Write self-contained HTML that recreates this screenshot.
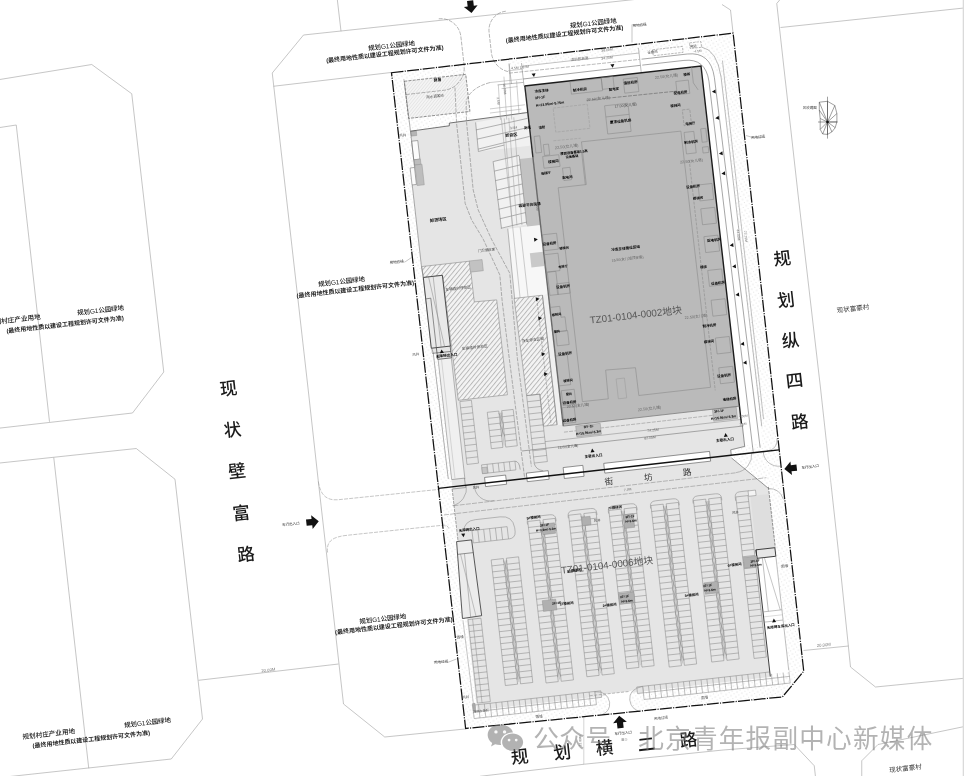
<!DOCTYPE html>
<html lang="zh-CN">
<head>
<meta charset="utf-8">
<title>总平面图</title>
<style>
html,body{margin:0;padding:0;background:#fff;}
body{width:964px;height:776px;overflow:hidden;}
svg{display:block;will-change:transform;filter:grayscale(1);}
text{font-family:"Liberation Sans","Noto Sans CJK SC",sans-serif;}
</style>
</head>
<body>
<svg width="964" height="776" viewBox="0 0 964 776">
<defs>
<pattern id="hatch" width="3.55" height="3.55" patternUnits="userSpaceOnUse" patternTransform="rotate(-44)">
<line x1="0" y1="0.5" x2="3.55" y2="0.5" stroke="#808080" stroke-width="0.5"/>
</pattern>
<pattern id="hatch2" width="2.4" height="2.4" patternUnits="userSpaceOnUse" patternTransform="rotate(-45)">
<line x1="0" y1="0" x2="2.4" y2="0" stroke="#bbb" stroke-width="0.45"/>
</pattern>
<pattern id="dots" width="5" height="5" patternUnits="userSpaceOnUse" patternTransform="rotate(20)">
<circle cx="1" cy="1" r="0.42" fill="#aaa"/>
<circle cx="3.5" cy="3.3" r="0.42" fill="#bbb"/>
</pattern>
</defs>
<rect x="0" y="0" width="964" height="776" fill="#ffffff"/>
<g id="outer">
<polyline points="-2,79.8 91.75,64.5 131.75,93.75 163.75,372 132.5,413 -2,428.3" fill="none" stroke="#a0a0a0" stroke-width="0.6" />
<polyline points="-2,127.8 16.25,125 49.5,421.75" fill="none" stroke="#a0a0a0" stroke-width="0.6" />
<polyline points="-2,463.2 136.25,448.5 175,479.25 202.5,719 171.25,759 -2,777.8" fill="none" stroke="#a0a0a0" stroke-width="0.6" />
<polyline points="53.75,457.5 88.75,768.25" fill="none" stroke="#a0a0a0" stroke-width="0.6" />
<polyline points="198.5,680.3 338.5,664" fill="none" stroke="#a0a0a0" stroke-width="0.6" />
<text x="268.5" y="671.5" font-size="4.2" fill="#777" text-anchor="middle" transform="rotate(-6.5 268.5 671.5)" >20.00M</text>
<polyline points="341,31 303.5,35 272.25,73 286,194 308,388 318.5,483 329.75,582 343.5,704 384.75,737 465,729" fill="none" stroke="#a0a0a0" stroke-width="0.6" />
<polyline points="337.25,-1 341,31.25" fill="none" stroke="#a0a0a0" stroke-width="0.6" />
<polyline points="273.5,86.25 391,72.5" fill="none" stroke="#a0a0a0" stroke-width="0.6" />
<polyline points="341,31 723,-10" fill="none" stroke="#a0a0a0" stroke-width="0.6" />
<path d="M318.3,481.5 C320,494 326,501 338.5,499.7 L440,489.3" fill="none" stroke="#a0a0a0" stroke-width="0.6" stroke-dasharray="4 1.2" />
<path d="M327.6,552.5 C326,541 333,536.8 347,535.3 L443,525.2 Q448.5,524.8 449.2,530" fill="none" stroke="#a0a0a0" stroke-width="0.6" stroke-dasharray="4 1.2" />
<polyline points="780.5,-1 776.75,3.5 798,194 820.5,388 841.75,582 850.5,667 875.5,687 965,678.2" fill="none" stroke="#a0a0a0" stroke-width="0.6" />
<polyline points="780.5,27.5 965,7.9" fill="none" stroke="#a0a0a0" stroke-width="0.6" />
<polyline points="722,4.5 730.5,10 733,32.5" fill="none" stroke="#a0a0a0" stroke-width="0.6" />
<polyline points="803.5,650.5 848.5,646" fill="none" stroke="#a0a0a0" stroke-width="0.6" />
<text x="824" y="646.3" font-size="4.2" fill="#777" text-anchor="middle" transform="rotate(-6.5 824 646.3)" >20.00M</text>
<polyline points="583.8,717 583.8,764.3" fill="none" stroke="#aaa" stroke-width="0.5" />
<polyline points="480,776.3 584.5,764.2 723,750 794.25,744.5 814.25,765.75 815.5,777" fill="none" stroke="#a0a0a0" stroke-width="0.6" />
<polyline points="965,726.4 878,744.5 861.75,760.75 861.75,777" fill="none" stroke="#a0a0a0" stroke-width="0.6" />
<rect x="962.7" y="0" width="1.3" height="776" fill="#dadada" stroke="none" stroke-width="0.6" />
</g>
<g id="site" transform="translate(391.5 72.75) rotate(-6.45)">
<polygon points="0,0 343.9,-1 342.4,641 318.4,664.1 0,659.9" fill="url(#dots)" stroke="none" stroke-width="0.6" />
<polygon points="74,0.8 117,0.8 117,8 262,8 298,12 318,22 327,44 327,410 308,410 308,28 131,28 131,57 74,57" fill="#fff" stroke="none" stroke-width="0.6" />
<polygon points="13.5,418 294.6,418 294.6,421 328,455 328,515 308.6,515 308.6,643 13.5,643" fill="#e5e5e5" stroke="none" stroke-width="0.6" />
<rect x="309" y="461" width="18.6" height="54" fill="#dedede" stroke="none" stroke-width="0.6" />
<polygon points="12.3,60.2 51.5,59.2 51.8,56.5 131,54.8 131,370 308.5,370 309,411 294.7,412.8 294.7,418.5 14,418.5 14,283 8,283 8,97 12.3,97" fill="#e5e5e5" stroke="none" stroke-width="0.6" />
<polygon points="78,58.8 131,54.9 131,88 77.5,88" fill="#f1f1f1" stroke="none" stroke-width="0.6" />
<polygon points="91,99.5 118,97 118,166 91.8,167" fill="#f1f1f1" stroke="none" stroke-width="0.6" />
<polygon points="117.5,100 131,100 131,168.5 117.5,168.5" fill="#c2c2c2" stroke="none" stroke-width="0.6" />
<polygon points="98,168 131,168 131,238 97,238" fill="#f7f7f7" stroke="none" stroke-width="0.6" />
<rect x="117.2" y="194.8" width="13.2" height="14.4" fill="#c9c9c9" stroke="none" stroke-width="0.6" />
<rect x="125" y="238" width="6" height="131" fill="#f0f0f0" stroke="none" stroke-width="0.6" />
<polygon points="14.1,290 27.4,290 27.3,411 14.1,411" fill="#f0f0f0" stroke="none" stroke-width="0.6" />
<rect x="12.3" y="70.3" width="6.2" height="18.7" fill="#fbfbfb" stroke="#666" stroke-width="0.5" />
<rect x="7.8" y="96.7" width="4.4" height="17.1" fill="#fbfbfb" stroke="#666" stroke-width="0.5" />
<rect x="11.8" y="9.9" width="61.8" height="37.4" fill="#f4f4f4" stroke="none" stroke-width="0.6" />
<rect x="11.8" y="9.9" width="61.8" height="37.4" fill="url(#hatch2)" stroke="#555" stroke-width="0.6" stroke-dasharray="3 1.2" />
<polygon points="8.3,196 56.5,196 56.5,237 79,237.5 79,333 29.6,333 28,207 8.6,207" fill="#f3f3f3" stroke="none" stroke-width="0.6" />
<polygon points="8.3,196 56.5,196 56.5,237 79,237.5 79,333 29.6,333 28,207 8.6,207" fill="url(#hatch)" stroke="#7d7d7d" stroke-width="0.5" />
<polygon points="96.5,238 125,238 125,368.3 111.3,368.3 111.3,336 98,336" fill="#f3f3f3" stroke="none" stroke-width="0.6" />
<polygon points="96.5,238 125,238 125,368.3 111.3,368.3 111.3,336 98,336" fill="url(#hatch)" stroke="#7d7d7d" stroke-width="0.5" />
<rect x="131" y="28.1" width="177.3" height="342.3" fill="#bababa" stroke="none" stroke-width="0.6" />
<polyline points="13,437.2 297.5,436.2" fill="none" stroke="#858585" stroke-width="0.5" stroke-dasharray="5 1.2" />
<polyline points="2.5,445.3 294,444.6" fill="none" stroke="#858585" stroke-width="0.5" stroke-dasharray="5 1.2" />
<path d="M44.30,495.30H56.60V621.72H44.30ZM44.30,501.32H56.60M44.30,507.34H56.60M44.30,513.36H56.60M44.30,519.38H56.60M44.30,525.40H56.60M44.30,531.42H56.60M44.30,537.44H56.60M44.30,543.46H56.60M44.30,549.48H56.60M44.30,555.50H56.60M44.30,561.52H56.60M44.30,567.54H56.60M44.30,573.56H56.60M44.30,579.58H56.60M44.30,585.60H56.60M44.30,591.62H56.60M44.30,597.64H56.60M44.30,603.66H56.60M44.30,609.68H56.60M44.30,615.70H56.60" fill="none" stroke="#858585" stroke-width="0.5" />
<path d="M59.60,495.30H71.90V621.72H59.60ZM59.60,501.32H71.90M59.60,507.34H71.90M59.60,513.36H71.90M59.60,519.38H71.90M59.60,525.40H71.90M59.60,531.42H71.90M59.60,537.44H71.90M59.60,543.46H71.90M59.60,549.48H71.90M59.60,555.50H71.90M59.60,561.52H71.90M59.60,567.54H71.90M59.60,573.56H71.90M59.60,579.58H71.90M59.60,585.60H71.90M59.60,591.62H71.90M59.60,597.64H71.90M59.60,603.66H71.90M59.60,609.68H71.90M59.60,615.70H71.90" fill="none" stroke="#858585" stroke-width="0.5" />
<polyline points="59.7,497.3 56.5,509.3 59.7,521.3 56.5,533.3 59.7,545.3 56.5,557.3 59.7,569.3 56.5,581.3 59.7,593.3 56.5,605.3 59.7,617.3" fill="none" stroke="#858585" stroke-width="0.5" />
<polyline points="56.5,497.3 59.7,509.3 56.5,521.3 59.7,533.3 56.5,545.3 59.7,557.3 56.5,569.3 59.7,581.3 56.5,593.3 59.7,605.3 56.5,617.3" fill="none" stroke="#858585" stroke-width="0.5" />
<polyline points="58.1,497.3 58.1,619.72" fill="none" stroke="#999" stroke-width="0.4" />
<path d="M85.00,461.20H97.30V623.74H85.00ZM85.00,467.22H97.30M85.00,473.24H97.30M85.00,479.26H97.30M85.00,485.28H97.30M85.00,491.30H97.30M85.00,497.32H97.30M85.00,503.34H97.30M85.00,509.36H97.30M85.00,515.38H97.30M85.00,521.40H97.30M85.00,527.42H97.30M85.00,533.44H97.30M85.00,539.46H97.30M85.00,545.48H97.30M85.00,551.50H97.30M85.00,557.52H97.30M85.00,563.54H97.30M85.00,569.56H97.30M85.00,575.58H97.30M85.00,581.60H97.30M85.00,587.62H97.30M85.00,593.64H97.30M85.00,599.66H97.30M85.00,605.68H97.30M85.00,611.70H97.30M85.00,617.72H97.30" fill="none" stroke="#858585" stroke-width="0.5" />
<path d="M100.30,461.20H112.60V623.74H100.30ZM100.30,467.22H112.60M100.30,473.24H112.60M100.30,479.26H112.60M100.30,485.28H112.60M100.30,491.30H112.60M100.30,497.32H112.60M100.30,503.34H112.60M100.30,509.36H112.60M100.30,515.38H112.60M100.30,521.40H112.60M100.30,527.42H112.60M100.30,533.44H112.60M100.30,539.46H112.60M100.30,545.48H112.60M100.30,551.50H112.60M100.30,557.52H112.60M100.30,563.54H112.60M100.30,569.56H112.60M100.30,575.58H112.60M100.30,581.60H112.60M100.30,587.62H112.60M100.30,593.64H112.60M100.30,599.66H112.60M100.30,605.68H112.60M100.30,611.70H112.60M100.30,617.72H112.60" fill="none" stroke="#858585" stroke-width="0.5" />
<polyline points="100.4,463.2 97.2,475.2 100.4,487.2 97.2,499.2 100.4,511.2 97.2,523.2 100.4,535.2 97.2,547.2 100.4,559.2 97.2,571.2 100.4,583.2 97.2,595.2 100.4,607.2 97.2,619.2" fill="none" stroke="#858585" stroke-width="0.5" />
<polyline points="97.2,463.2 100.4,475.2 97.2,487.2 100.4,499.2 97.2,511.2 100.4,523.2 97.2,535.2 100.4,547.2 97.2,559.2 100.4,571.2 97.2,583.2 100.4,595.2 97.2,607.2 100.4,619.2" fill="none" stroke="#858585" stroke-width="0.5" />
<polyline points="98.8,463.2 98.8,621.74" fill="none" stroke="#999" stroke-width="0.4" />
<path d="M84.40,464.20V462.00Q84.40,457.00 90.00,457.00H107.60Q113.20,457.00 113.20,462.00V464.20" fill="none" stroke="#858585" stroke-width="0.5" />
<path d="M126.30,459.60H138.60V622.14H126.30ZM126.30,465.62H138.60M126.30,471.64H138.60M126.30,477.66H138.60M126.30,483.68H138.60M126.30,489.70H138.60M126.30,495.72H138.60M126.30,501.74H138.60M126.30,507.76H138.60M126.30,513.78H138.60M126.30,519.80H138.60M126.30,525.82H138.60M126.30,531.84H138.60M126.30,537.86H138.60M126.30,543.88H138.60M126.30,549.90H138.60M126.30,555.92H138.60M126.30,561.94H138.60M126.30,567.96H138.60M126.30,573.98H138.60M126.30,580.00H138.60M126.30,586.02H138.60M126.30,592.04H138.60M126.30,598.06H138.60M126.30,604.08H138.60M126.30,610.10H138.60M126.30,616.12H138.60" fill="none" stroke="#858585" stroke-width="0.5" />
<path d="M141.60,459.60H153.90V622.14H141.60ZM141.60,465.62H153.90M141.60,471.64H153.90M141.60,477.66H153.90M141.60,483.68H153.90M141.60,489.70H153.90M141.60,495.72H153.90M141.60,501.74H153.90M141.60,507.76H153.90M141.60,513.78H153.90M141.60,519.80H153.90M141.60,525.82H153.90M141.60,531.84H153.90M141.60,537.86H153.90M141.60,543.88H153.90M141.60,549.90H153.90M141.60,555.92H153.90M141.60,561.94H153.90M141.60,567.96H153.90M141.60,573.98H153.90M141.60,580.00H153.90M141.60,586.02H153.90M141.60,592.04H153.90M141.60,598.06H153.90M141.60,604.08H153.90M141.60,610.10H153.90M141.60,616.12H153.90" fill="none" stroke="#858585" stroke-width="0.5" />
<polyline points="141.7,461.6 138.5,473.6 141.7,485.6 138.5,497.6 141.7,509.6 138.5,521.6 141.7,533.6 138.5,545.6 141.7,557.6 138.5,569.6 141.7,581.6 138.5,593.6 141.7,605.6 138.5,617.6" fill="none" stroke="#858585" stroke-width="0.5" />
<polyline points="138.5,461.6 141.7,473.6 138.5,485.6 141.7,497.6 138.5,509.6 141.7,521.6 138.5,533.6 141.7,545.6 138.5,557.6 141.7,569.6 138.5,581.6 141.7,593.6 138.5,605.6 141.7,617.6" fill="none" stroke="#858585" stroke-width="0.5" />
<polyline points="140.1,461.6 140.1,620.14" fill="none" stroke="#999" stroke-width="0.4" />
<path d="M125.70,462.60V460.40Q125.70,455.40 131.30,455.40H148.90Q154.50,455.40 154.50,460.40V462.60" fill="none" stroke="#858585" stroke-width="0.5" />
<path d="M166.80,459.40H179.10V618.70H166.80ZM166.80,465.30H179.10M166.80,471.20H179.10M166.80,477.10H179.10M166.80,483.00H179.10M166.80,488.90H179.10M166.80,494.80H179.10M166.80,500.70H179.10M166.80,506.60H179.10M166.80,512.50H179.10M166.80,518.40H179.10M166.80,524.30H179.10M166.80,530.20H179.10M166.80,536.10H179.10M166.80,542.00H179.10M166.80,547.90H179.10M166.80,553.80H179.10M166.80,559.70H179.10M166.80,565.60H179.10M166.80,571.50H179.10M166.80,577.40H179.10M166.80,583.30H179.10M166.80,589.20H179.10M166.80,595.10H179.10M166.80,601.00H179.10M166.80,606.90H179.10M166.80,612.80H179.10" fill="none" stroke="#858585" stroke-width="0.5" />
<path d="M182.10,459.40H194.40V618.70H182.10ZM182.10,465.30H194.40M182.10,471.20H194.40M182.10,477.10H194.40M182.10,483.00H194.40M182.10,488.90H194.40M182.10,494.80H194.40M182.10,500.70H194.40M182.10,506.60H194.40M182.10,512.50H194.40M182.10,518.40H194.40M182.10,524.30H194.40M182.10,530.20H194.40M182.10,536.10H194.40M182.10,542.00H194.40M182.10,547.90H194.40M182.10,553.80H194.40M182.10,559.70H194.40M182.10,565.60H194.40M182.10,571.50H194.40M182.10,577.40H194.40M182.10,583.30H194.40M182.10,589.20H194.40M182.10,595.10H194.40M182.10,601.00H194.40M182.10,606.90H194.40M182.10,612.80H194.40" fill="none" stroke="#858585" stroke-width="0.5" />
<polyline points="182.2,461.4 179,473.4 182.2,485.4 179,497.4 182.2,509.4 179,521.4 182.2,533.4 179,545.4 182.2,557.4 179,569.4 182.2,581.4 179,593.4 182.2,605.4" fill="none" stroke="#858585" stroke-width="0.5" />
<polyline points="179,461.4 182.2,473.4 179,485.4 182.2,497.4 179,509.4 182.2,521.4 179,533.4 182.2,545.4 179,557.4 182.2,569.4 179,581.4 182.2,593.4 179,605.4" fill="none" stroke="#858585" stroke-width="0.5" />
<polyline points="180.6,461.4 180.6,616.7" fill="none" stroke="#999" stroke-width="0.4" />
<path d="M166.20,462.40V460.20Q166.20,455.20 171.80,455.20H189.40Q195.00,455.20 195.00,460.20V462.40" fill="none" stroke="#858585" stroke-width="0.5" />
<path d="M209.20,459.20H221.50V621.74H209.20ZM209.20,465.22H221.50M209.20,471.24H221.50M209.20,477.26H221.50M209.20,483.28H221.50M209.20,489.30H221.50M209.20,495.32H221.50M209.20,501.34H221.50M209.20,507.36H221.50M209.20,513.38H221.50M209.20,519.40H221.50M209.20,525.42H221.50M209.20,531.44H221.50M209.20,537.46H221.50M209.20,543.48H221.50M209.20,549.50H221.50M209.20,555.52H221.50M209.20,561.54H221.50M209.20,567.56H221.50M209.20,573.58H221.50M209.20,579.60H221.50M209.20,585.62H221.50M209.20,591.64H221.50M209.20,597.66H221.50M209.20,603.68H221.50M209.20,609.70H221.50M209.20,615.72H221.50" fill="none" stroke="#858585" stroke-width="0.5" />
<path d="M224.50,459.20H236.80V621.74H224.50ZM224.50,465.22H236.80M224.50,471.24H236.80M224.50,477.26H236.80M224.50,483.28H236.80M224.50,489.30H236.80M224.50,495.32H236.80M224.50,501.34H236.80M224.50,507.36H236.80M224.50,513.38H236.80M224.50,519.40H236.80M224.50,525.42H236.80M224.50,531.44H236.80M224.50,537.46H236.80M224.50,543.48H236.80M224.50,549.50H236.80M224.50,555.52H236.80M224.50,561.54H236.80M224.50,567.56H236.80M224.50,573.58H236.80M224.50,579.60H236.80M224.50,585.62H236.80M224.50,591.64H236.80M224.50,597.66H236.80M224.50,603.68H236.80M224.50,609.70H236.80M224.50,615.72H236.80" fill="none" stroke="#858585" stroke-width="0.5" />
<polyline points="224.6,461.2 221.4,473.2 224.6,485.2 221.4,497.2 224.6,509.2 221.4,521.2 224.6,533.2 221.4,545.2 224.6,557.2 221.4,569.2 224.6,581.2 221.4,593.2 224.6,605.2 221.4,617.2" fill="none" stroke="#858585" stroke-width="0.5" />
<polyline points="221.4,461.2 224.6,473.2 221.4,485.2 224.6,497.2 221.4,509.2 224.6,521.2 221.4,533.2 224.6,545.2 221.4,557.2 224.6,569.2 221.4,581.2 224.6,593.2 221.4,605.2 224.6,617.2" fill="none" stroke="#858585" stroke-width="0.5" />
<polyline points="223,461.2 223,619.74" fill="none" stroke="#999" stroke-width="0.4" />
<path d="M208.60,462.20V460.00Q208.60,455.00 214.20,455.00H231.80Q237.40,455.00 237.40,460.00V462.20" fill="none" stroke="#858585" stroke-width="0.5" />
<path d="M252.00,459.00H264.30V621.54H252.00ZM252.00,465.02H264.30M252.00,471.04H264.30M252.00,477.06H264.30M252.00,483.08H264.30M252.00,489.10H264.30M252.00,495.12H264.30M252.00,501.14H264.30M252.00,507.16H264.30M252.00,513.18H264.30M252.00,519.20H264.30M252.00,525.22H264.30M252.00,531.24H264.30M252.00,537.26H264.30M252.00,543.28H264.30M252.00,549.30H264.30M252.00,555.32H264.30M252.00,561.34H264.30M252.00,567.36H264.30M252.00,573.38H264.30M252.00,579.40H264.30M252.00,585.42H264.30M252.00,591.44H264.30M252.00,597.46H264.30M252.00,603.48H264.30M252.00,609.50H264.30M252.00,615.52H264.30" fill="none" stroke="#858585" stroke-width="0.5" />
<path d="M267.30,459.00H279.60V621.54H267.30ZM267.30,465.02H279.60M267.30,471.04H279.60M267.30,477.06H279.60M267.30,483.08H279.60M267.30,489.10H279.60M267.30,495.12H279.60M267.30,501.14H279.60M267.30,507.16H279.60M267.30,513.18H279.60M267.30,519.20H279.60M267.30,525.22H279.60M267.30,531.24H279.60M267.30,537.26H279.60M267.30,543.28H279.60M267.30,549.30H279.60M267.30,555.32H279.60M267.30,561.34H279.60M267.30,567.36H279.60M267.30,573.38H279.60M267.30,579.40H279.60M267.30,585.42H279.60M267.30,591.44H279.60M267.30,597.46H279.60M267.30,603.48H279.60M267.30,609.50H279.60M267.30,615.52H279.60" fill="none" stroke="#858585" stroke-width="0.5" />
<polyline points="267.4,461 264.2,473 267.4,485 264.2,497 267.4,509 264.2,521 267.4,533 264.2,545 267.4,557 264.2,569 267.4,581 264.2,593 267.4,605 264.2,617" fill="none" stroke="#858585" stroke-width="0.5" />
<polyline points="264.2,461 267.4,473 264.2,485 267.4,497 264.2,509 267.4,521 264.2,533 267.4,545 264.2,557 267.4,569 264.2,581 267.4,593 264.2,605 267.4,617" fill="none" stroke="#858585" stroke-width="0.5" />
<polyline points="265.8,461 265.8,619.54" fill="none" stroke="#999" stroke-width="0.4" />
<path d="M251.40,462.00V459.80Q251.40,454.80 257.00,454.80H274.60Q280.20,454.80 280.20,459.80V462.00" fill="none" stroke="#858585" stroke-width="0.5" />
<path d="M294.50,460.20H306.80V622.74H294.50ZM294.50,466.22H306.80M294.50,472.24H306.80M294.50,478.26H306.80M294.50,484.28H306.80M294.50,490.30H306.80M294.50,496.32H306.80M294.50,502.34H306.80M294.50,508.36H306.80M294.50,514.38H306.80M294.50,520.40H306.80M294.50,526.42H306.80M294.50,532.44H306.80M294.50,538.46H306.80M294.50,544.48H306.80M294.50,550.50H306.80M294.50,556.52H306.80M294.50,562.54H306.80M294.50,568.56H306.80M294.50,574.58H306.80M294.50,580.60H306.80M294.50,586.62H306.80M294.50,592.64H306.80M294.50,598.66H306.80M294.50,604.68H306.80M294.50,610.70H306.80M294.50,616.72H306.80" fill="none" stroke="#858585" stroke-width="0.5" />
<path d="M293.9,464V460.5Q293.9,455.5 299,455.5H308" fill="none" stroke="#858585" stroke-width="0.5" />
<path d="M28.50,464.00H63.90V476.40H28.50ZM34.40,464.00V476.40M40.30,464.00V476.40M46.20,464.00V476.40M52.10,464.00V476.40M58.00,464.00V476.40" fill="none" stroke="#858585" stroke-width="0.5" />
<path d="M20,464 Q22,453.5 33,453.5 H58 Q70.5,453.5 71.3,466 V470 Q71,476.5 64,476.5" fill="none" stroke="#858585" stroke-width="0.5" />
<polygon points="12,473.2 27.1,473.2 28.6,549.6 9.2,550.3" fill="#ececec" stroke="#444" stroke-width="0.85" />
<polyline points="11.5,486 27.4,486" fill="none" stroke="#555" stroke-width="0.6" />
<polyline points="18.5,486 17.5,550" fill="none" stroke="#858585" stroke-width="0.5" />
<polyline points="14.5,486 23,550" fill="none" stroke="#858585" stroke-width="0.45" />
<polyline points="9.5,552 10.5,640" fill="none" stroke="#858585" stroke-width="0.45" />
<path d="M14.60,552.00H27.60V636.00H14.60ZM14.60,558.00H27.60M14.60,564.00H27.60M14.60,570.00H27.60M14.60,576.00H27.60M14.60,582.00H27.60M14.60,588.00H27.60M14.60,594.00H27.60M14.60,600.00H27.60M14.60,606.00H27.60M14.60,612.00H27.60M14.60,618.00H27.60M14.60,624.00H27.60M14.60,630.00H27.60" fill="none" stroke="#858585" stroke-width="0.5" />
<polyline points="19.2,552 19.2,636" fill="none" stroke="#858585" stroke-width="0.45" />
<path d="M9.60,637.60H132.66V651.00H9.60ZM15.46,637.60V651.00M21.32,637.60V651.00M27.18,637.60V651.00M33.04,637.60V651.00M38.90,637.60V651.00M44.76,637.60V651.00M50.62,637.60V651.00M56.48,637.60V651.00M62.34,637.60V651.00M68.20,637.60V651.00M74.06,637.60V651.00M79.92,637.60V651.00M85.78,637.60V651.00M91.64,637.60V651.00M97.50,637.60V651.00M103.36,637.60V651.00M109.22,637.60V651.00M115.08,637.60V651.00M120.94,637.60V651.00M126.80,637.60V651.00M9.60,644.30H132.66" fill="none" stroke="#858585" stroke-width="0.5" />
<path d="M180.60,637.90H327.60V651.20H180.60ZM186.48,637.90V651.20M192.36,637.90V651.20M198.24,637.90V651.20M204.12,637.90V651.20M210.00,637.90V651.20M215.88,637.90V651.20M221.76,637.90V651.20M227.64,637.90V651.20M233.52,637.90V651.20M239.40,637.90V651.20M245.28,637.90V651.20M251.16,637.90V651.20M257.04,637.90V651.20M262.92,637.90V651.20M268.80,637.90V651.20M274.68,637.90V651.20M280.56,637.90V651.20M286.44,637.90V651.20M292.32,637.90V651.20M298.20,637.90V651.20M304.08,637.90V651.20M309.96,637.90V651.20M315.84,637.90V651.20M321.72,637.90V651.20M180.60,644.50H327.60" fill="none" stroke="#858585" stroke-width="0.5" />
<rect x="9.5" y="636" width="2.7" height="7.5" fill="#aaa" stroke="#888" stroke-width="0.4" />
<path d="M132.6,638 Q145,638.5 146,650 Q146,659 137,661.8 L175,662.4 Q166.5,659.5 166.3,650 Q166.5,639 180.6,638 L166.5,641.6 L132.6,641.4 Z" fill="#fff" stroke="none" stroke-width="0.6" />
<rect x="132.7" y="637.7" width="5.9" height="6.6" fill="#e5e5e5" stroke="#858585" stroke-width="0.5" />
<rect x="174.7" y="637.9" width="5.9" height="6.6" fill="#e5e5e5" stroke="#858585" stroke-width="0.5" />
<path d="M132.6,638 Q145,638.5 146,650 Q146,659 137,661.5" fill="none" stroke="#858585" stroke-width="0.5" />
<path d="M180.6,638 Q166.5,639 166.3,650 Q166.5,659.5 175,662.5" fill="none" stroke="#858585" stroke-width="0.5" />
<polyline points="127,641.3 166.5,641.5" fill="none" stroke="#858585" stroke-width="0.5" stroke-dasharray="3 1.5" />
<rect x="308.6" y="515" width="19" height="125" fill="#ffffff" stroke="none" stroke-width="0.6" />
<rect x="308.6" y="515" width="19" height="8.6" fill="#e6e6e6" stroke="#333" stroke-width="0.9" />
<polyline points="308.6,515 308.6,642.5" fill="none" stroke="#333" stroke-width="0.9" />
<polyline points="327.6,523 327.6,638" fill="none" stroke="#858585" stroke-width="0.5" />
<polyline points="314,523.6 314,577.5" fill="none" stroke="#858585" stroke-width="0.5" />
<polyline points="316,523.6 326,577.5" fill="none" stroke="#858585" stroke-width="0.45" />
<polyline points="309,577.5 327.5,577.5" fill="none" stroke="#858585" stroke-width="0.5" />
<polyline points="309,587.8 327.5,587.8" fill="none" stroke="#858585" stroke-width="0.5" />
<polyline points="309,582.5 327.5,582.5" fill="none" stroke="#aaa" stroke-width="0.4" />
<path d="M330.8,418 Q341.6,417.6 342.1,406.5" fill="none" stroke="#858585" stroke-width="0.5" />
<path d="M326.8,418.6 A15.3,15.3 0 0 0 342.1,434.6" fill="none" stroke="#858585" stroke-width="0.5" />
<path d="M315.2,418.5 A18,18 0 0 1 297.5,436" fill="none" stroke="#858585" stroke-width="0.5" />
<path d="M328,455.5 Q339,456.5 341.5,468" fill="none" stroke="#858585" stroke-width="0.5" />
<path d="M294,444.5 H327" fill="none" stroke="#858585" stroke-width="0.5" stroke-dasharray="5 1.2" />
<polyline points="13.5,420.5 13.5,473" fill="none" stroke="#666" stroke-width="0.55" stroke-dasharray="3 1" />
<path d="M28,418.5 A18,18 0 0 1 12,437" fill="none" stroke="#858585" stroke-width="0.5" />
<path d="M36,418.5 A16,16 0 0 0 54,436.6" fill="none" stroke="#858585" stroke-width="0.5" />
<polyline points="328,454 328,515" fill="none" stroke="#555" stroke-width="0.6" stroke-dasharray="3 1" />
<polyline points="294.6,421 328,455.5" fill="none" stroke="#666" stroke-width="0.6" />
<rect x="307.3" y="455.6" width="7.5" height="5.4" fill="#f4f4f4" stroke="#858585" stroke-width="0.5" />
<rect x="180.6" y="465.4" width="10" height="13.6" fill="#b0b0b0" stroke="#888" stroke-width="0.4" />
<rect x="253.2" y="542" width="13.3" height="11.5" fill="#b0b0b0" stroke="#888" stroke-width="0.4" />
<rect x="167" y="543" width="15.5" height="10.6" fill="#b0b0b0" stroke="#888" stroke-width="0.4" />
<rect x="98.5" y="465.5" width="12.8" height="10.5" fill="#b0b0b0" stroke="#888" stroke-width="0.4" />
<rect x="90.5" y="541.5" width="13.5" height="10.8" fill="#b0b0b0" stroke="#888" stroke-width="0.4" />
<rect x="295" y="521.2" width="13.6" height="10.8" fill="#b0b0b0" stroke="#888" stroke-width="0.4" />
<rect x="139" y="463" width="8.5" height="8.5" fill="#b0b0b0" stroke="#888" stroke-width="0.4" />
<rect x="47" y="412.6" width="21.2" height="9.2" fill="#ffffff" stroke="#555" stroke-width="0.6" />
<rect x="89" y="413" width="22" height="8.6" fill="#ffffff" stroke="#555" stroke-width="0.6" />
<rect x="126.2" y="411.6" width="19.8" height="11" fill="#ffffff" stroke="#555" stroke-width="0.6" />
<rect x="167" y="412" width="106.5" height="9.8" fill="#ffffff" stroke="#555" stroke-width="0.6" />
<polyline points="13.8,411 27,411 27,420.5 13.8,420.5" fill="none" stroke="#666" stroke-width="0.5" />
<rect x="12.4" y="60.3" width="5.7" height="4.9" fill="#b5b5b5" stroke="#888" stroke-width="0.4" />
<rect x="12.5" y="89" width="6.5" height="5.3" fill="#bdbdbd" stroke="#888" stroke-width="0.4" />
<rect x="12.8" y="94.3" width="7.2" height="20.7" fill="#bdbdbd" stroke="#888" stroke-width="0.4" />
<rect x="56" y="195.8" width="13" height="11.2" fill="#c2c2c2" stroke="#888" stroke-width="0.4" />
<polyline points="12.3,60.2 51.5,59.2 51.8,56.5 131,54.8" fill="none" stroke="#444" stroke-width="0.7" />
<polyline points="11.6,8 12.3,60.2 12.3,96.7" fill="none" stroke="#666" stroke-width="0.5" />
<polyline points="8,113.8 8,196 8.6,207 9,278 10,283.5 10.8,410" fill="none" stroke="#666" stroke-width="0.5" />
<path d="M53,-48.3 A20,20 0 0 1 73,-28.3 V0.5 A22.7,22.7 0 0 1 50.3,23.3 H11.7" fill="none" stroke="#7d7d7d" stroke-width="0.55" stroke-dasharray="4 1.2" />
<path d="M120.5,-48.3 A19,19 0 0 0 101.5,-29.3 V-9 A22,22 0 0 0 117.5,12.5" fill="none" stroke="#7d7d7d" stroke-width="0.55" stroke-dasharray="4 1.2" />
<polyline points="61.4,21.8 59,57 58.5,138 63,155 72.4,175.6 84.9,213 84.3,240 84.8,288.6 86.8,418" fill="none" stroke="#7d7d7d" stroke-width="0.55" stroke-dasharray="4 1.2" />
<path d="M96.8,20.8 Q76,24 71,37 L69.8,47.9 L69,58 L68,125.5 L70.7,146 L80.6,176.5 L95,212.5 L93,298 L94.8,407" fill="none" stroke="#7d7d7d" stroke-width="0.55" stroke-dasharray="4 1.2" />
<polyline points="78,58.8 77.5,88" fill="none" stroke="#7d7d7d" stroke-width="0.55" />
<polyline points="77.5,66.3 130,60.6" fill="none" stroke="#7d7d7d" stroke-width="0.55" />
<polyline points="77.5,75.6 130,69.7" fill="none" stroke="#7d7d7d" stroke-width="0.55" />
<polyline points="77.5,85.6 130,78.8" fill="none" stroke="#7d7d7d" stroke-width="0.55" />
<polyline points="77.5,88 104,84.5" fill="none" stroke="#7d7d7d" stroke-width="0.55" />
<polyline points="91,99.5 91.8,167" fill="none" stroke="#7d7d7d" stroke-width="0.55" />
<polyline points="117.6,97 117.3,166" fill="none" stroke="#7d7d7d" stroke-width="0.55" />
<polyline points="91.2,99.7 117.5,96.4" fill="none" stroke="#7d7d7d" stroke-width="0.55" />
<polyline points="91.2,109.3 117.5,106" fill="none" stroke="#7d7d7d" stroke-width="0.55" />
<polyline points="91.2,118.9 117.5,115.6" fill="none" stroke="#7d7d7d" stroke-width="0.55" />
<polyline points="91.2,128.5 117.5,125.2" fill="none" stroke="#7d7d7d" stroke-width="0.55" />
<polyline points="91.2,138.1 117.5,134.8" fill="none" stroke="#7d7d7d" stroke-width="0.55" />
<polyline points="91.2,147.7 117.5,144.4" fill="none" stroke="#7d7d7d" stroke-width="0.55" />
<polyline points="91.2,157.3 117.5,154" fill="none" stroke="#7d7d7d" stroke-width="0.55" />
<polyline points="91.2,166.9 117.5,163.6" fill="none" stroke="#7d7d7d" stroke-width="0.55" />
<polyline points="106.9,58 102.9,166" fill="none" stroke="#999" stroke-width="0.45" />
<polyline points="111.5,58 107.5,166" fill="none" stroke="#999" stroke-width="0.45" />
<polyline points="116.5,58 112.5,166" fill="none" stroke="#999" stroke-width="0.45" />
<polyline points="104,57 102.5,238" fill="none" stroke="#999" stroke-width="0.45" />
<polyline points="110.5,168 110.5,238" fill="none" stroke="#999" stroke-width="0.45" />
<polyline points="98,168 97,238" fill="none" stroke="#7d7d7d" stroke-width="0.5" />
<rect x="8.6" y="207" width="19.2" height="71.2" fill="#e9e9e9" stroke="#444" stroke-width="0.9" />
<polyline points="8.6,228.6 13.7,228.4 13.7,278" fill="none" stroke="#555" stroke-width="0.6" />
<polyline points="13.7,278 13.7,290 27.6,290 27.6,278" fill="none" stroke="#444" stroke-width="0.7" />
<polyline points="9,283.4 27.6,283.6" fill="none" stroke="#444" stroke-width="0.6" />
<polyline points="13.9,207 22,278" fill="none" stroke="#7d7d7d" stroke-width="0.45" />
<polyline points="18.5,207 18.5,278" fill="none" stroke="#7d7d7d" stroke-width="0.45" />
<polyline points="14.1,290 14.1,410.5" fill="none" stroke="#7d7d7d" stroke-width="0.5" />
<polyline points="27.4,290 27.3,412" fill="none" stroke="#7d7d7d" stroke-width="0.5" />
<polyline points="17.5,290 17.5,410" fill="none" stroke="#aaa" stroke-width="0.4" />
<path d="M31.00,334.40H42.60V397.70H31.00ZM31.00,340.73H42.60M31.00,347.06H42.60M31.00,353.39H42.60M31.00,359.72H42.60M31.00,366.05H42.60M31.00,372.38H42.60M31.00,378.71H42.60M31.00,385.04H42.60M31.00,391.37H42.60" fill="none" stroke="#858585" stroke-width="0.5" />
<path d="M57.00,348.20H68.60V384.80H57.00ZM57.00,354.30H68.60M57.00,360.40H68.60M57.00,366.50H68.60M57.00,372.60H68.60M57.00,378.70H68.60" fill="none" stroke="#858585" stroke-width="0.5" />
<path d="M71.50,348.20H83.10V384.80H71.50ZM71.50,354.30H83.10M71.50,360.40H83.10M71.50,366.50H83.10M71.50,372.60H83.10M71.50,378.70H83.10" fill="none" stroke="#858585" stroke-width="0.5" />
<polyline points="71.65,350 68.45,362 71.65,374" fill="none" stroke="#858585" stroke-width="0.5" />
<polyline points="68.45,350 71.65,362 68.45,374" fill="none" stroke="#858585" stroke-width="0.5" />
<polyline points="70.05,350 70.05,383" fill="none" stroke="#999" stroke-width="0.4" />
<path d="M98.00,336.00H111.20V403.87H98.00ZM98.00,342.17H111.20M98.00,348.34H111.20M98.00,354.51H111.20M98.00,360.68H111.20M98.00,366.85H111.20M98.00,373.02H111.20M98.00,379.19H111.20M98.00,385.36H111.20M98.00,391.53H111.20M98.00,397.70H111.20" fill="none" stroke="#858585" stroke-width="0.5" />
<path d="M45.40,399.80H79.00V408.60H45.40ZM51.00,399.80V408.60M56.60,399.80V408.60M62.20,399.80V408.60M67.80,399.80V408.60M73.40,399.80V408.60" fill="none" stroke="#858585" stroke-width="0.5" />
<path d="M79,399.8 Q83.5,400.5 83.3,408.8" fill="none" stroke="#7d7d7d" stroke-width="0.55" />
<path d="M97.8,404 Q99,411 106,412.5" fill="none" stroke="#7d7d7d" stroke-width="0.55" />
<rect x="45.4" y="402.5" width="5.1" height="6.1" fill="#c5c5c5" stroke="#888" stroke-width="0.4" />
<polyline points="104,24 130,24.4" fill="none" stroke="#7d7d7d" stroke-width="0.5" />
<polyline points="116.7,13.6 248,14.6" fill="none" stroke="#7d7d7d" stroke-width="0.5" stroke-dasharray="4 1.2" />
<polyline points="130,21 248,20.6" fill="none" stroke="#555" stroke-width="0.5" />
<polyline points="117.9,3.9 117.9,24.5" fill="none" stroke="#7d7d7d" stroke-width="0.5" />
<polyline points="130.2,5 130.2,28" fill="none" stroke="#7d7d7d" stroke-width="0.5" />
<polyline points="248.2,3 248.2,28" fill="none" stroke="#7d7d7d" stroke-width="0.5" />
<polyline points="130.2,8.2 248.2,8.2" fill="none" stroke="#7d7d7d" stroke-width="0.45" />
<polyline points="104.8,24 103,59" fill="none" stroke="#999" stroke-width="0.45" />
<polyline points="111.3,16.5 109.2,59.5" fill="none" stroke="#999" stroke-width="0.45" />
<polyline points="117.8,4.7 114.2,60" fill="none" stroke="#999" stroke-width="0.45" />
<polyline points="123.4,22 122.1,55.3" fill="none" stroke="#999" stroke-width="0.45" />
<polyline points="96.8,20.8 129.5,21" fill="none" stroke="#999" stroke-width="0.45" />
<polyline points="107.6,28.1 123.5,27.9" fill="none" stroke="#999" stroke-width="0.45" />
<polyline points="93.8,47 129,46.8" fill="none" stroke="#999" stroke-width="0.45" />
<polyline points="93.3,51.1 125,50.7" fill="none" stroke="#999" stroke-width="0.45" />
<polyline points="116.2,11.2 130.4,11.1" fill="none" stroke="#999" stroke-width="0.45" />
<polyline points="124.7,54.7 129.7,54.4" fill="none" stroke="#999" stroke-width="0.45" />
<rect x="262" y="6.5" width="30" height="6" fill="none" stroke="#7d7d7d" stroke-width="0.5" stroke-dasharray="2.5 1" />
<rect x="299.5" y="3.8" width="11.5" height="5.7" fill="none" stroke="#7d7d7d" stroke-width="0.5" stroke-dasharray="2.5 1" />
<path d="M250,20.6 H292 Q313.6,20.6 314.5,44 L316.8,418" fill="none" stroke="#666" stroke-width="0.55" />
<path d="M250,14.6 H296 Q319.5,14.8 320.3,41 L324.2,414" fill="none" stroke="#666" stroke-width="0.55" />
<path d="M311,9.3 Q326,14 327,41 L328.2,393" fill="none" stroke="#7d7d7d" stroke-width="0.5" />
<path d="M330.2,25 L330.8,386" fill="none" stroke="#7d7d7d" stroke-width="0.45" />
<polyline points="125,238 125,368.3" fill="none" stroke="#7d7d7d" stroke-width="0.5" />
<polyline points="119,241 119,368" fill="none" stroke="#7d7d7d" stroke-width="0.45" stroke-dasharray="3 1.2" />
<polyline points="131,376.5 305,376.5" fill="none" stroke="#7d7d7d" stroke-width="0.45" stroke-dasharray="4 1.2" />
<polyline points="111,383.8 309,383.8" fill="none" stroke="#7d7d7d" stroke-width="0.45" />
<polyline points="87,390.5 310,390.5" fill="none" stroke="#666" stroke-width="0.5" />
<rect x="143.3" y="371.8" width="24.7" height="11" fill="#bebebe" stroke="#888" stroke-width="0.4" />
<rect x="281" y="370.6" width="24" height="11.9" fill="#bebebe" stroke="#888" stroke-width="0.4" />
<polyline points="294.7,418 294.7,412.8 309,411 309,388" fill="none" stroke="#555" stroke-width="0.6" />
<polyline points="131,370.4 131,100" fill="none" stroke="#6a6a6a" stroke-width="1.4" />
<polyline points="131,100 131,28.1" fill="none" stroke="#2a2a2a" stroke-width="1.4" />
<polyline points="130.6,28.1 308.3,28.1 308.3,388" fill="none" stroke="#1c1c1c" stroke-width="1.4" />
<polyline points="131,370.4 308.3,370.4" fill="none" stroke="#777" stroke-width="0.7" />
<polyline points="181,133 181,90 281,90.5 281.7,348.4 209.5,348.5 209.3,320.5 179.4,319.5 178.8,348.4 152.8,348.2 152.7,133 181,133" fill="none" stroke="#858585" stroke-width="0.5" />
<rect x="188.8" y="329.5" width="8.4" height="20" fill="none" stroke="#999" stroke-width="0.5" />
<polyline points="190.7,49.3 281.5,50.3" fill="none" stroke="#555" stroke-width="0.5" stroke-dasharray="4 1.2" />
<rect x="176.4" y="29" width="31.4" height="12.5" fill="none" stroke="#858585" stroke-width="0.5" />
<rect x="207.8" y="28.5" width="11.8" height="11.7" fill="none" stroke="#858585" stroke-width="0.5" />
<rect x="229.5" y="32.3" width="14.2" height="14.2" fill="none" stroke="#858585" stroke-width="0.5" />
<rect x="208" y="56.8" width="23.5" height="28.4" fill="none" stroke="#858585" stroke-width="0.5" />
<polyline points="208,68 231.5,68" fill="none" stroke="#858585" stroke-width="0.5" />
<rect x="156.6" y="53.3" width="34.4" height="24.2" fill="none" stroke="#999" stroke-width="0.5" stroke-dasharray="3 1.2" />
<rect x="281.5" y="40.6" width="12.6" height="13.4" fill="none" stroke="#858585" stroke-width="0.5" />
<rect x="284.8" y="69.6" width="7.5" height="15.9" fill="none" stroke="#858585" stroke-width="0.5" stroke-dasharray="3 1.2" />
<rect x="284" y="92.2" width="9.8" height="21.6" fill="none" stroke="#858585" stroke-width="0.5" />
<rect x="300.9" y="90.5" width="5.1" height="13.5" fill="none" stroke="#858585" stroke-width="0.5" />
<rect x="300.6" y="108.9" width="5.8" height="5.9" fill="none" stroke="#858585" stroke-width="0.5" />
<polyline points="298.8,28 298.8,44 302.8,51.5" fill="none" stroke="#858585" stroke-width="0.5" />
<rect x="134.5" y="79.3" width="5.8" height="16.7" fill="none" stroke="#858585" stroke-width="0.5" />
<rect x="142.8" y="88.5" width="5.2" height="10.9" fill="none" stroke="#858585" stroke-width="0.5" />
<rect x="140.8" y="100.2" width="16.2" height="11.8" fill="none" stroke="#858585" stroke-width="0.5" />
<rect x="159.2" y="114" width="7.6" height="12.5" fill="none" stroke="#858585" stroke-width="0.5" />
<polyline points="158,98.8 180,98.7 180,133" fill="none" stroke="#858585" stroke-width="0.5" />
<polyline points="153.2,85.8 180.6,86.3" fill="none" stroke="#999" stroke-width="0.5" stroke-dasharray="3 1.2" />
<rect x="131.8" y="178" width="14.2" height="16" fill="none" stroke="#858585" stroke-width="0.5" />
<rect x="131.5" y="198" width="13.7" height="17.5" fill="none" stroke="#858585" stroke-width="0.5" />
<rect x="132.4" y="215.8" width="8.6" height="23.2" fill="none" stroke="#858585" stroke-width="0.5" />
<rect x="140.2" y="228.3" width="12.6" height="10.7" fill="none" stroke="#858585" stroke-width="0.5" />
<polyline points="131,251 141,251 141,262 145,262 145,276 131,276" fill="none" stroke="#858585" stroke-width="0.5" />
<rect x="134" y="276" width="12" height="14" fill="none" stroke="#858585" stroke-width="0.5" />
<polyline points="131,300 143,300 143,330 131,330" fill="none" stroke="#858585" stroke-width="0.5" />
<rect x="133" y="335" width="13" height="15" fill="none" stroke="#858585" stroke-width="0.5" />
<rect x="132" y="352" width="12" height="16" fill="none" stroke="#858585" stroke-width="0.5" />
<rect x="292" y="146" width="14" height="16" fill="none" stroke="#858585" stroke-width="0.5" />
<rect x="292" y="170" width="14" height="16" fill="none" stroke="#858585" stroke-width="0.5" />
<rect x="292" y="198" width="14" height="16" fill="none" stroke="#858585" stroke-width="0.5" />
<rect x="292" y="232" width="14" height="16" fill="none" stroke="#858585" stroke-width="0.5" />
<rect x="292" y="262" width="14" height="16" fill="none" stroke="#858585" stroke-width="0.5" />
<rect x="292" y="300" width="14" height="16" fill="none" stroke="#858585" stroke-width="0.5" />
<rect x="292" y="330" width="14" height="16" fill="none" stroke="#858585" stroke-width="0.5" />
<polyline points="286,120 286,352" fill="none" stroke="#858585" stroke-width="0.5" stroke-dasharray="3 1.2" />
<polygon points="0,0 343.9,-1 342.4,641 318.4,664.1 0,659.9" fill="none" stroke="#111" stroke-width="1.25" stroke-dasharray="12 1.3 1.1 1.3" stroke-linejoin="miter"/>
<polyline points="0,418.3 342.8,418.3" fill="none" stroke="#111" stroke-width="1.45" />
<text x="-197.53" y="301.63" font-size="17.5" fill="#1a1a1a" text-anchor="middle" font-weight="500" >现</text>
<text x="-198.19" y="343.12" font-size="17.5" fill="#1a1a1a" text-anchor="middle" font-weight="500" >状</text>
<text x="-198.36" y="384.66" font-size="17.5" fill="#1a1a1a" text-anchor="middle" font-weight="500" >壁</text>
<text x="-198.71" y="426.89" font-size="17.5" fill="#1a1a1a" text-anchor="middle" font-weight="500" >富</text>
<text x="-198.67" y="468.46" font-size="17.5" fill="#1a1a1a" text-anchor="middle" font-weight="500" >路</text>
<text x="367.41" y="234.77" font-size="17.5" fill="#1a1a1a" text-anchor="middle" font-weight="500" >规</text>
<text x="366.47" y="276.43" font-size="17.5" fill="#1a1a1a" text-anchor="middle" font-weight="500" >划</text>
<text x="366.4" y="317.18" font-size="17.5" fill="#1a1a1a" text-anchor="middle" font-weight="500" >纵</text>
<text x="365.98" y="357.38" font-size="17.5" fill="#1a1a1a" text-anchor="middle" font-weight="500" >四</text>
<text x="366.46" y="398.95" font-size="17.5" fill="#1a1a1a" text-anchor="middle" font-weight="500" >路</text>
<text x="50.64" y="700.43" font-size="17.5" fill="#1a1a1a" text-anchor="middle" font-weight="500" >规</text>
<text x="93.28" y="700.72" font-size="17.5" fill="#1a1a1a" text-anchor="middle" font-weight="500" >划</text>
<text x="135.82" y="701" font-size="17.5" fill="#1a1a1a" text-anchor="middle" font-weight="500" >横</text>
<text x="177.75" y="702.22" font-size="17.5" fill="#1a1a1a" text-anchor="middle" font-weight="500" >二</text>
<text x="220.29" y="702.5" font-size="17.5" fill="#1a1a1a" text-anchor="middle" font-weight="500" >路</text>
<text x="170.21" y="433.69" font-size="8.6" fill="#333" text-anchor="middle" >街</text>
<text x="209.53" y="433.91" font-size="8.6" fill="#333" text-anchor="middle" >坊</text>
<text x="248.94" y="433.33" font-size="8.6" fill="#333" text-anchor="middle" >路</text>
<text x="215.5" y="271.58" font-size="9.8" fill="#555" text-anchor="middle" >TZ01-0104-0002地块</text>
<text x="158.84" y="516.87" font-size="9.8" fill="#555" text-anchor="middle" >TZ01-0104-0006地块</text>
<text x="432.1" y="288.44" font-size="6.5" fill="#333" text-anchor="middle" >现状富豪村</text>
<text x="432.61" y="751.23" font-size="6.5" fill="#333" text-anchor="middle" >现状富豪村</text>
<text x="3.06" y="-24.77" font-size="6.4" fill="#111" text-anchor="middle" font-weight="500" >规划G1公园绿地</text>
<text x="-4.59" y="-17.33" font-size="6" fill="#1c1c1c" text-anchor="middle" font-weight="bold" >(最终用地性质以建设工程规划许可文件为准)</text>
<text x="206.06" y="-24.47" font-size="6.4" fill="#111" text-anchor="middle" font-weight="500" >规划G1公园绿地</text>
<text x="176.27" y="-17.01" font-size="6" fill="#1c1c1c" text-anchor="middle" font-weight="bold" >(最终用地性质以建设工程规划许可文件为准)</text>
<text x="-73.13" y="204.12" font-size="6.4" fill="#111" text-anchor="middle" font-weight="500" >规划G1公园绿地</text>
<text x="-60.34" y="213.17" font-size="6" fill="#1c1c1c" text-anchor="middle" font-weight="bold" >(最终用地性质以建设工程规划许可文件为准)</text>
<text x="-315.83" y="205.56" font-size="6.4" fill="#111" text-anchor="middle" font-weight="500" >规划G1公园绿地</text>
<text x="-352.7" y="215.54" font-size="6" fill="#1c1c1c" text-anchor="middle" font-weight="bold" >(最终用地性质以建设工程规划许可文件为准)</text>
<text x="-315.45" y="620.53" font-size="6.4" fill="#111" text-anchor="middle" font-weight="500" >规划G1公园绿地</text>
<text x="-373.22" y="630.66" font-size="6" fill="#1c1c1c" text-anchor="middle" font-weight="bold" >(最终用地性质以建设工程规划许可文件为准)</text>
<text x="-70.03" y="543.87" font-size="6.4" fill="#111" text-anchor="middle" font-weight="500" >规划G1公园绿地</text>
<text x="-59.88" y="551.86" font-size="6" fill="#1c1c1c" text-anchor="middle" font-weight="bold" >(最终用地性质以建设工程规划许可文件为准)</text>
<text x="-402.54" y="205.29" font-size="6.6" fill="#111" text-anchor="middle" font-weight="500" >规划村庄产业用地</text>
<text x="-414.85" y="620.84" font-size="6.6" fill="#111" text-anchor="middle" font-weight="500" >规划村庄产业用地</text>
<path d="M-6.2,-3.1 H-0.6 V-6.9 L6.3,0 L-0.6,6.9 V3.1 H-6.2 Z" fill="#111" transform="translate(86.22 -56.72) rotate(90) scale(1.0)"/>
<path d="M-6.2,-3.1 H-0.6 V-6.9 L6.3,0 L-0.6,6.9 V3.1 H-6.2 Z" fill="#111" transform="translate(-128.97 437.53) rotate(0) scale(1.0)"/>
<path d="M-6.2,-3.1 H-0.6 V-6.9 L6.3,0 L-0.6,6.9 V3.1 H-6.2 Z" fill="#111" transform="translate(352.14 437.88) rotate(180) scale(1.0)"/>
<path d="M-6.2,-3.1 H-0.6 V-6.9 L6.3,0 L-0.6,6.9 V3.1 H-6.2 Z" fill="#111" transform="translate(154.03 670.70) rotate(270) scale(1.0)"/>
<polyline points="-22.3,187.11 -8.56,188.83" fill="none" stroke="#777" stroke-width="0.4" />
<polyline points="-24.07,589.96 -10.82,591.62" fill="none" stroke="#777" stroke-width="0.4" />
<polyline points="350.34,104.45 364.08,106.17" fill="none" stroke="#777" stroke-width="0.4" />
<polyline points="244.73,-20.71 258.97,-18.93" fill="none" stroke="#777" stroke-width="0.4" />
<polyline points="-8.38,189.81 -0.88,185.83" fill="none" stroke="#777" stroke-width="0.4" />
<polyline points="-10.6,592.31 -1.27,589.84" fill="none" stroke="#777" stroke-width="0.4" />
<polyline points="350.01,104.23 345.21,102.18" fill="none" stroke="#777" stroke-width="0.4" />
<polyline points="244.4,-20.93 242.38,-3.04" fill="none" stroke="#777" stroke-width="0.4" />
<path d="M2.1,0 L-1.6,-2 L-1.6,2 Z" fill="#111" transform="translate(318.34 54.96) rotate(180) scale(1.0)"/>
<path d="M2.1,0 L-1.6,-2 L-1.6,2 Z" fill="#111" transform="translate(318.67 81.46) rotate(180) scale(1.0)"/>
<path d="M2.1,0 L-1.6,-2 L-1.6,2 Z" fill="#111" transform="translate(318.34 117.25) rotate(180) scale(1.0)"/>
<path d="M2.1,0 L-1.6,-2 L-1.6,2 Z" fill="#111" transform="translate(318.59 137.31) rotate(180) scale(1.0)"/>
<path d="M2.1,0 L-1.6,-2 L-1.6,2 Z" fill="#111" transform="translate(318.72 209.63) rotate(180) scale(1.0)"/>
<path d="M2.1,0 L-1.6,-2 L-1.6,2 Z" fill="#111" transform="translate(318.82 231.03) rotate(180) scale(1.0)"/>
<path d="M2.1,0 L-1.6,-2 L-1.6,2 Z" fill="#111" transform="translate(318.87 259.46) rotate(180) scale(1.0)"/>
<path d="M2.1,0 L-1.6,-2 L-1.6,2 Z" fill="#111" transform="translate(318.31 308.96) rotate(180) scale(1.0)"/>
<path d="M2.1,0 L-1.6,-2 L-1.6,2 Z" fill="#111" transform="translate(318.68 327.88) rotate(180) scale(1.0)"/>
<path d="M2.1,0 L-1.6,-2 L-1.6,2 Z" fill="#111" transform="translate(124.60 181.90) rotate(0) scale(1.0)"/>
<path d="M2.1,0 L-1.6,-2 L-1.6,2 Z" fill="#111" transform="translate(119.66 241.22) rotate(0) scale(1.0)"/>
<path d="M2.1,0 L-1.6,-2 L-1.6,2 Z" fill="#111" transform="translate(119.98 260.63) rotate(0) scale(1.0)"/>
<path d="M2.1,0 L-1.6,-2 L-1.6,2 Z" fill="#111" transform="translate(119.19 296.52) rotate(0) scale(1.0)"/>
<path d="M2.1,0 L-1.6,-2 L-1.6,2 Z" fill="#111" transform="translate(119.43 316.67) rotate(0) scale(1.0)"/>
<path d="M2.1,0 L-1.6,-2 L-1.6,2 Z" fill="#111" transform="translate(141.10 18.22) rotate(90) scale(1.0)"/>
<path d="M2.1,0 L-1.6,-2 L-1.6,2 Z" fill="#111" transform="translate(220.39 17.87) rotate(90) scale(1.0)"/>
<path d="M2.1,0 L-1.6,-2 L-1.6,2 Z" fill="#111" transform="translate(157.17 398.13) rotate(270) scale(1.0)"/>
<path d="M2.1,0 L-1.6,-2 L-1.6,2 Z" fill="#111" transform="translate(291.37 397.70) rotate(270) scale(1.0)"/>
<path d="M2.1,0 L-1.6,-2 L-1.6,2 Z" fill="#111" transform="translate(18.62 282.63) rotate(270) scale(1.0)"/>
<path d="M2.1,0 L-1.6,-2 L-1.6,2 Z" fill="#111" transform="translate(19.40 467.59) rotate(90) scale(1.0)"/>
<path d="M2.1,0 L-1.6,-2 L-1.6,2 Z" fill="#111" transform="translate(318.52 587.45) rotate(270) scale(1.0)"/>
<text x="44.89" y="13.75" font-size="3.82" fill="#000" text-anchor="middle" font-weight="bold" >预留</text>
<text x="40.58" y="29.55" font-size="3.5" fill="#444" text-anchor="middle" >雨水调蓄池</text>
<text x="4.2" y="64.64" font-size="3.39" fill="#444" text-anchor="middle" >风井</text>
<text x="29.89" y="152.89" font-size="4.24" fill="#000" text-anchor="middle" font-weight="bold" >卸货场区</text>
<text x="42.07" y="222.91" font-size="3.71" fill="#444" text-anchor="middle" >车辆临时停放区</text>
<text x="51.93" y="283.51" font-size="3.71" fill="#444" text-anchor="middle" >车辆临时停放区</text>
<text x="110.6" y="282.59" font-size="3.71" fill="#444" text-anchor="middle" >货车停车区域</text>
<text x="74.49" y="188.02" font-size="3.39" fill="#444" text-anchor="middle" >门卫值班室</text>
<text x="23" y="288.35" font-size="3.6" fill="#000" text-anchor="middle" font-weight="bold" >无障碍出入口</text>
<text x="-7.49" y="283.82" font-size="3.39" fill="#444" text-anchor="middle" >风井</text>
<text x="-16.29" y="189.87" font-size="3.5" fill="#444" text-anchor="middle" >用地红线</text>
<text x="122.49" y="148.07" font-size="3.71" fill="#000" text-anchor="middle" font-weight="bold" >装卸平台雨篷</text>
<text x="112.15" y="76.78" font-size="4.03" fill="#000" text-anchor="middle" font-weight="bold" >卸货区</text>
<text x="212.91" y="201.93" font-size="3.6" fill="#000" text-anchor="middle" font-weight="bold" >冷库主体建设区域</text>
<text x="213.63" y="212.44" font-size="3.5" fill="#666" text-anchor="middle" >16.50(女儿墙顶标高)</text>
<text x="147.12" y="36.06" font-size="3.5" fill="#000" text-anchor="middle" font-weight="bold" >冷库主体</text>
<text x="144.79" y="42.44" font-size="3.5" fill="#000" text-anchor="middle" font-weight="bold" >3F/-1F</text>
<text x="154.01" y="49.92" font-size="3.5" fill="#000" text-anchor="middle" font-weight="bold" >H=23.95m/-5.75m</text>
<text x="185.31" y="39.17" font-size="3.5" fill="#000" text-anchor="middle" font-weight="bold" >制冷机房</text>
<text x="219.25" y="42.46" font-size="3.39" fill="#000" text-anchor="middle" font-weight="bold" >配电室</text>
<text x="236.49" y="37.81" font-size="3.5" fill="#000" text-anchor="middle" font-weight="bold" >值班机房</text>
<text x="202.49" y="50.28" font-size="3.82" fill="#666" text-anchor="middle" >22.50(女儿墙)</text>
<text x="228.97" y="59.84" font-size="3.6" fill="#444" text-anchor="middle" >17.00(女儿墙)</text>
<text x="222.21" y="75.18" font-size="3.6" fill="#000" text-anchor="middle" font-weight="bold" >屋顶设备机房</text>
<text x="165.71" y="94.33" font-size="3.82" fill="#666" text-anchor="middle" >22.50(女儿墙)</text>
<text x="172.41" y="100.73" font-size="3.29" fill="#000" text-anchor="middle" font-weight="bold" >屋面设备基础1.5高</text>
<text x="169.95" y="104.64" font-size="3.18" fill="#000" text-anchor="middle" font-weight="bold" >设备基础</text>
<text x="150.81" y="107.62" font-size="3.5" fill="#000" text-anchor="middle" font-weight="bold" >楼梯间</text>
<text x="142.05" y="118.27" font-size="3.39" fill="#000" text-anchor="middle" font-weight="bold" >电梯厅</text>
<text x="163.04" y="124.87" font-size="3.39" fill="#000" text-anchor="middle" font-weight="bold" >配电间</text>
<text x="143.41" y="72.43" font-size="3.39" fill="#000" text-anchor="middle" font-weight="bold" >消防</text>
<text x="128.98" y="71" font-size="3.39" fill="#000" text-anchor="middle" font-weight="bold" >雨篷</text>
<text x="115.07" y="69.43" font-size="3.39" fill="#666" text-anchor="middle" >3.5M</text>
<text x="216.71" y="2.7" font-size="3.6" fill="#666" text-anchor="middle" >38.00M</text>
<text x="188.38" y="8.55" font-size="3.6" fill="#666" text-anchor="middle" >消防登高面</text>
<text x="215.82" y="10.65" font-size="3.6" fill="#666" text-anchor="middle" >34.20M</text>
<text x="128.29" y="10.34" font-size="3.39" fill="#555" text-anchor="middle" >4.5M 1.67M</text>
<text x="261.68" y="9.92" font-size="3.39" fill="#444" text-anchor="middle" >设备间</text>
<text x="303.07" y="8.76" font-size="3.39" fill="#444" text-anchor="middle" >电缆</text>
<text x="307" y="13.96" font-size="3.18" fill="#666" text-anchor="middle" >4.5M</text>
<text x="272.87" y="35.69" font-size="3.82" fill="#666" text-anchor="middle" >22.50(女儿墙)</text>
<text x="293.16" y="35.92" font-size="3.39" fill="#000" text-anchor="middle" font-weight="bold" >楼梯</text>
<text x="284.95" y="53.35" font-size="3.5" fill="#000" text-anchor="middle" font-weight="bold" >配电机房</text>
<text x="278.52" y="65.67" font-size="3.39" fill="#000" text-anchor="middle" font-weight="bold" >楼梯间</text>
<text x="291.21" y="85.22" font-size="3.39" fill="#000" text-anchor="middle" font-weight="bold" >电梯厅</text>
<text x="289.82" y="103.72" font-size="3.5" fill="#000" text-anchor="middle" font-weight="bold" >制冷机房</text>
<text x="288.19" y="122.73" font-size="3.71" fill="#666" text-anchor="middle" >22.50(女儿墙)</text>
<text x="286.81" y="148.16" font-size="3.5" fill="#000" text-anchor="middle" font-weight="bold" >设备机房</text>
<text x="290.49" y="160.11" font-size="3.39" fill="#000" text-anchor="middle" font-weight="bold" >楼梯间</text>
<text x="301.67" y="203.68" font-size="3.5" fill="#000" text-anchor="middle" font-weight="bold" >配电机房</text>
<text x="288.2" y="229.29" font-size="3.39" fill="#000" text-anchor="middle" font-weight="bold" >楼梯</text>
<text x="300.81" y="246.86" font-size="3.5" fill="#000" text-anchor="middle" font-weight="bold" >设备机房</text>
<text x="275.19" y="277.75" font-size="3.71" fill="#666" text-anchor="middle" >22.50(女儿墙)</text>
<text x="287.59" y="288.13" font-size="3.5" fill="#000" text-anchor="middle" font-weight="bold" >制冷机房</text>
<text x="285.3" y="303.94" font-size="3.39" fill="#000" text-anchor="middle" font-weight="bold" >楼梯间</text>
<text x="296.39" y="339.44" font-size="3.5" fill="#000" text-anchor="middle" font-weight="bold" >设备机房</text>
<text x="299.21" y="363.41" font-size="3.5" fill="#000" text-anchor="middle" font-weight="bold" >电梯机房</text>
<text x="137.82" y="188.68" font-size="3.5" fill="#000" text-anchor="middle" font-weight="bold" >设备机房</text>
<text x="151.72" y="194.66" font-size="3.18" fill="#000" text-anchor="middle" font-weight="bold" >楼梯间</text>
<text x="148.65" y="212.93" font-size="3.18" fill="#000" text-anchor="middle" font-weight="bold" >电梯厅</text>
<text x="146.4" y="232.92" font-size="3.5" fill="#000" text-anchor="middle" font-weight="bold" >设备机房</text>
<text x="136.8" y="259.9" font-size="3.18" fill="#000" text-anchor="middle" font-weight="bold" >楼梯间</text>
<text x="135.39" y="276.85" font-size="3.18" fill="#000" text-anchor="middle" font-weight="bold" >管井</text>
<text x="140.86" y="299.72" font-size="3.5" fill="#000" text-anchor="middle" font-weight="bold" >设备机房</text>
<text x="140.81" y="326.77" font-size="3.18" fill="#000" text-anchor="middle" font-weight="bold" >楼梯间</text>
<text x="140.29" y="340.3" font-size="3.18" fill="#000" text-anchor="middle" font-weight="bold" >管井</text>
<text x="139.85" y="348.72" font-size="3.5" fill="#000" text-anchor="middle" font-weight="bold" >设备机房</text>
<text x="137.86" y="366.31" font-size="3.5" fill="#000" text-anchor="middle" font-weight="bold" >设备机房</text>
<text x="147.94" y="352.89" font-size="3.6" fill="#555" text-anchor="middle" >22.50(女儿墙)</text>
<text x="218.65" y="363.98" font-size="3.82" fill="#666" text-anchor="middle" >22.50(女儿墙)</text>
<text x="156.01" y="374.86" font-size="3.39" fill="#000" text-anchor="middle" font-weight="bold" >3F/-1F</text>
<text x="155.34" y="380.82" font-size="3.39" fill="#000" text-anchor="middle" font-weight="bold" >H=15.95m/-5.3m</text>
<text x="219.71" y="385.66" font-size="3.6" fill="#666" text-anchor="middle" >74.25M</text>
<text x="215.89" y="392.78" font-size="3.6" fill="#666" text-anchor="middle" >82.05M</text>
<text x="157.69" y="404.61" font-size="3.6" fill="#000" text-anchor="middle" font-weight="bold" >主要出入口</text>
<text x="290.16" y="403.49" font-size="3.6" fill="#000" text-anchor="middle" font-weight="bold" >主要出入口</text>
<text x="287.43" y="374.12" font-size="3.39" fill="#000" text-anchor="middle" font-weight="bold" >3F/-1F</text>
<text x="291.19" y="380.89" font-size="3.39" fill="#000" text-anchor="middle" font-weight="bold" >H=15.95m/-5.3m</text>
<text x="133.4" y="392.43" font-size="3.39" fill="#555" text-anchor="middle" >18.00(女儿墙)</text>
<text x="311.21" y="381.76" font-size="3.18" fill="#666" text-anchor="middle" >4.50M</text>
<text x="309.82" y="389.66" font-size="3.18" fill="#666" text-anchor="middle" >1.5M</text>
<text x="25.9" y="463.85" font-size="3.5" fill="#000" text-anchor="middle" font-weight="bold" >无障碍出入口</text>
<text x="324.65" y="595.04" font-size="3.5" fill="#000" text-anchor="middle" font-weight="bold" >无障碍车库出入口</text>
<text x="335.1" y="535.54" font-size="3.5" fill="#444" text-anchor="middle" >围墙</text>
<text x="74.26" y="657.4" font-size="3.5" fill="#444" text-anchor="middle" >围墙</text>
<text x="4.68" y="569.63" font-size="3.5" fill="#444" text-anchor="middle" >围墙</text>
<text x="240.84" y="657.22" font-size="3.5" fill="#444" text-anchor="middle" >围墙</text>
<text x="3.69" y="629.97" font-size="3.39" fill="#444" text-anchor="middle" >风井</text>
<text x="-16.98" y="592.14" font-size="3.5" fill="#444" text-anchor="middle" >用地红线</text>
<text x="356.96" y="106.27" font-size="3.5" fill="#444" text-anchor="middle" >用地红线</text>
<text x="251.79" y="-18.33" font-size="3.5" fill="#444" text-anchor="middle" >用地红线</text>
<text x="195.31" y="672.7" font-size="3.5" fill="#444" text-anchor="middle" >用地红线</text>
<text x="91.14" y="459.11" font-size="3.39" fill="#000" text-anchor="middle" font-weight="bold" >5#楼梯间</text>
<text x="173.25" y="458.33" font-size="3.39" fill="#000" text-anchor="middle" font-weight="bold" >7#楼梯间</text>
<text x="37.37" y="422.84" font-size="3.39" fill="#444" text-anchor="middle" >风井</text>
<text x="153.9" y="469.22" font-size="3.39" fill="#444" text-anchor="middle" >风井</text>
<text x="101.23" y="467.72" font-size="3.18" fill="#000" text-anchor="middle" font-weight="bold" >3F/-1F</text>
<text x="102.21" y="472.36" font-size="3.18" fill="#000" text-anchor="middle" font-weight="bold" >H=3.6m/-5.3m</text>
<text x="187.14" y="468.88" font-size="3.18" fill="#000" text-anchor="middle" font-weight="bold" >3F/-1F</text>
<text x="187.63" y="473.46" font-size="3.18" fill="#000" text-anchor="middle" font-weight="bold" >H=3.6m</text>
<text x="292.42" y="476.83" font-size="3.39" fill="#444" text-anchor="middle" >风井</text>
<text x="285.55" y="528.69" font-size="3.39" fill="#000" text-anchor="middle" font-weight="bold" >6#楼梯间</text>
<text x="306.35" y="527.14" font-size="3.18" fill="#000" text-anchor="middle" font-weight="bold" >3F/-1F</text>
<text x="306.9" y="531.23" font-size="3.18" fill="#000" text-anchor="middle" font-weight="bold" >H=3.6m</text>
<text x="125.43" y="516.32" font-size="3.39" fill="#000" text-anchor="middle" font-weight="bold" >5#楼梯间</text>
<text x="156.83" y="554.59" font-size="3.39" fill="#000" text-anchor="middle" font-weight="bold" >2#楼梯间</text>
<text x="239.43" y="553.87" font-size="3.39" fill="#000" text-anchor="middle" font-weight="bold" >3#楼梯间</text>
<text x="114.27" y="548.27" font-size="3.39" fill="#000" text-anchor="middle" font-weight="bold" >1#楼梯间</text>
<text x="104.39" y="546.57" font-size="3.18" fill="#000" text-anchor="middle" font-weight="bold" >3F/-1F</text>
<text x="172.69" y="547.75" font-size="3.18" fill="#000" text-anchor="middle" font-weight="bold" >3F/-1F</text>
<text x="256.4" y="546.15" font-size="3.18" fill="#000" text-anchor="middle" font-weight="bold" >3F/-1F</text>
<text x="174.67" y="552.51" font-size="3.18" fill="#000" text-anchor="middle" font-weight="bold" >H=3.6m</text>
<text x="258.38" y="550.9" font-size="3.18" fill="#000" text-anchor="middle" font-weight="bold" >H=3.6m</text>
<text x="17.23" y="645.41" font-size="3.18" fill="#444" text-anchor="middle" >消防水泵房</text>
<text x="187.89" y="441.87" font-size="3.39" fill="#666" text-anchor="middle" >7.0M</text>
<text x="158.12" y="690.02" font-size="3.18" fill="#444" text-anchor="middle" >②</text>
<text x="0" y="0" font-size="3.2" fill="#666" text-anchor="middle" transform="translate(113.5 685.3) rotate(-83.5)">12.00M</text>
<text x="0" y="0" font-size="3.3" fill="#666" text-anchor="middle" transform="translate(325.3 200.1) rotate(90)">44.00M</text>
<text x="0" y="0" font-size="3.3" fill="#666" text-anchor="middle" transform="translate(332.5 202.4) rotate(90)">73.75M</text>
<text x="0" y="0" font-size="3.3" fill="#666" text-anchor="middle" transform="translate(109.5 28.7) rotate(90)">16.00M</text>
<text x="0" y="0" font-size="3.3" fill="#666" text-anchor="middle" transform="translate(101.7 39.9) rotate(90)">3.5M</text>
<text x="0" y="0" font-size="3.3" fill="#666" text-anchor="middle" transform="translate(128.7 149.7) rotate(90)">3.5M</text>
<text x="-150.75" y="438.34" font-size="3.5" fill="#1a1a1a" text-anchor="middle" >车行出入口</text>
<text x="371.79" y="439.75" font-size="3.5" fill="#1a1a1a" text-anchor="middle" >车行出入口</text>
<text x="156.06" y="683.36" font-size="3.5" fill="#1a1a1a" text-anchor="middle" >车行出入口</text>
</g>
<g id="labels">
<path d="M819.3,102.2 L827.5,101.3 L834.8,105.5 L836.9,113.5 L836.9,121.9 L835.2,127.7 L831.9,131.9 L827.5,134.4 L822.7,134.0 L820.2,129.4 L820.2,118.5 L819.3,110.1ZM827.5,122.0L819.3,102.2M827.5,122.0L827.5,101.3M827.5,122.0L834.8,105.5M827.5,122.0L836.9,113.5M827.5,122.0L836.9,121.9M827.5,122.0L835.2,127.7M827.5,122.0L831.9,131.9M827.5,122.0L827.5,134.4M827.5,122.0L822.7,134.0M827.5,122.0L820.2,129.4M827.5,122.0L820.2,118.5M827.5,122.0L819.3,110.1M827.5,96.7V138.6M818,122.0H837.7" fill="none" stroke="#2a2a2a" stroke-width="0.45"/>
<circle cx="827.5" cy="122.0" r="1.3" fill="#111"/>
<text x="809.8" y="108.9" font-size="3.5" fill="#444" text-anchor="middle">风玫瑰图</text>
<g transform="translate(505.4 738) scale(1.05) translate(-505.4 -738)"><g opacity="0.58" fill="#7c7c7c"><path d="M500.5,725.2c-6.6,0-12,4.4-12,9.9c0,3,1.7,5.8,4.3,7.6l-1.1,3.3l3.9,-2c1.5,0.4,3.1,0.7,4.7,0.7c0.3,0,0.7,0,1,-0.05c-0.3,-0.9,-0.4,-1.8,-0.4,-2.7c0,-5.1,4.9,-9.2,10.9,-9.2c0.3,0,0.5,0,0.8,0.03C511.5,728.3,506.5,725.2,500.5,725.2z"/><path d="M522.3,742c0,-4.5,-4.5,-8.2,-10,-8.2s-10,3.7,-10,8.2s4.5,8.2,10,8.2c1.3,0,2.5,-0.2,3.6,-0.5l3.2,1.7l-0.9,-2.8C520.7,747.1,522.3,744.7,522.3,742z"/></g><g fill="#fff" opacity="0.92"><circle cx="496.4" cy="732.2" r="1.6"/><circle cx="504.6" cy="732.2" r="1.6"/><circle cx="508.9" cy="740" r="1.3"/><circle cx="515.7" cy="740" r="1.3"/></g></g>
<text x="533.2" y="747.6" font-size="25.6" fill="#7a7a7a" fill-opacity="0.57" font-weight="400" letter-spacing="0.5">公众号</text>
<text x="622.8" y="747" font-size="25.6" fill="#7a7a7a" fill-opacity="0.57" font-weight="400" text-anchor="middle">·</text>
<text x="638.2" y="747.6" font-size="25.6" fill="#7a7a7a" fill-opacity="0.57" font-weight="400" letter-spacing="1.25">北京青年报副中心新媒体</text>
</g>
</svg>
</body>
</html>
